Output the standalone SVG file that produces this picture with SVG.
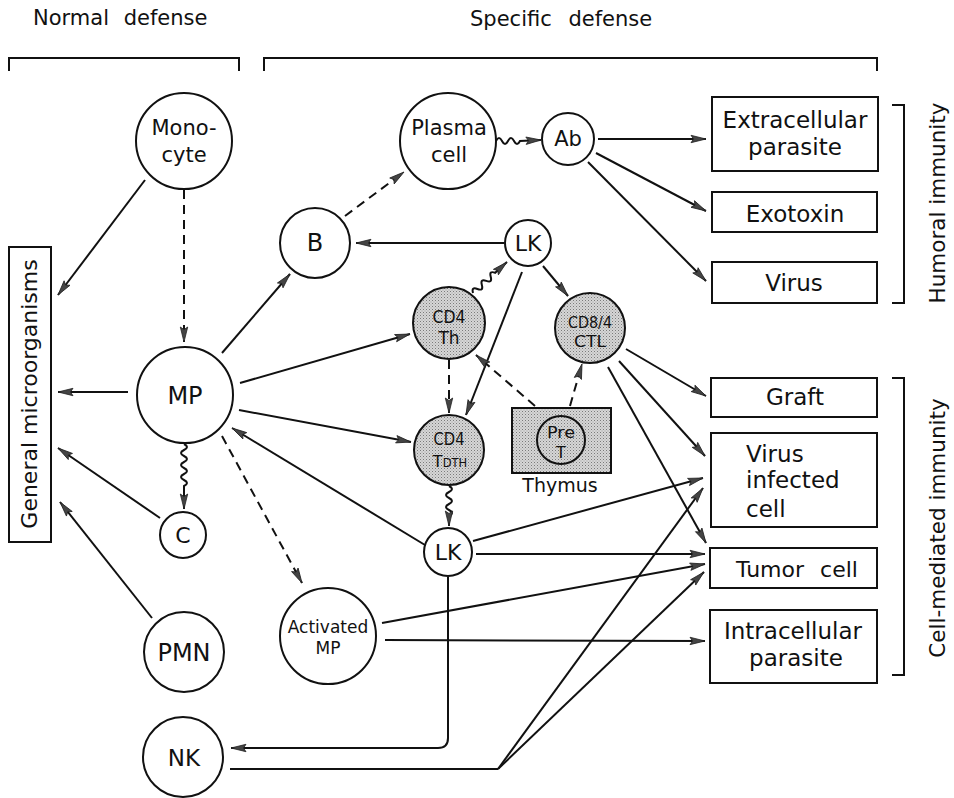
<svg xmlns="http://www.w3.org/2000/svg" width="954" height="798" viewBox="0 0 954 798">
<style>
text{font-family:"DejaVu Sans","Liberation Sans",sans-serif;fill:#111}
.c{text-anchor:middle}
.n{fill:#fff;stroke:#111;stroke-width:2}
.s{fill:url(#stip);stroke:#111;stroke-width:2}
.b{fill:#fff;stroke:#111;stroke-width:2}
.l{fill:none;stroke:#111;stroke-width:2}
.a{fill:none;stroke:#111;stroke-width:2;marker-end:url(#ah)}
.d{fill:none;stroke:#111;stroke-width:2;stroke-dasharray:9 6;marker-end:url(#ah)}
.w{fill:none;stroke:#111;stroke-width:2;marker-end:url(#ah)}
.t23{font-size:23px}
.t21{font-size:21px}
</style>
<defs>
<pattern id="stip" width="3" height="3" patternUnits="userSpaceOnUse">
<rect width="3" height="3" fill="#d6d6d6"/>
<rect x="0" y="0" width="1" height="1" fill="#7a7a7a"/>
<rect x="1.5" y="1.5" width="1" height="1" fill="#a0a0a0"/>
</pattern>
<marker id="ah" markerUnits="userSpaceOnUse" markerWidth="17" markerHeight="10" refX="16" refY="5" orient="auto">
<path d="M1,1.3 L16,5 L1,8.7 L3.5,5 z" fill="#444" stroke="#222" stroke-width="0.8"/>
</marker>
</defs>

<g id="titles">
<text x="33" y="25" class="t21" style="word-spacing:8px">Normal defense</text>
<text x="470" y="26" class="t21" style="word-spacing:10px">Specific defense</text>
<path class="l" d="M9,71 L9,58 L239,58 L239,71"/>
<path class="l" d="M264,71 L264,58 L877,58 L877,71"/>
<path class="l" d="M892,105 L904,105 L904,303 L892,303"/>
<path class="l" d="M892,378 L904,378 L904,675 L892,675"/>
<text transform="translate(945,203) rotate(-90)" class="c" style="font-size:21.5px">Humoral immunity</text>
<text transform="translate(945,528) rotate(-90)" class="c" style="font-size:21.5px">Cell-mediated immunity</text>
</g>

<g id="connectors">
<line class="a" x1="145" y1="180" x2="58" y2="295"/>
<line class="d" x1="184" y1="190" x2="184" y2="342"/>
<line class="a" x1="128" y1="392" x2="58" y2="392"/>
<line class="a" x1="160" y1="518" x2="58" y2="448"/>
<line class="a" x1="152" y1="618" x2="60" y2="502"/>
<path class="w" d="M184,444 q6,3 0,6 t0,6 t0,6 t0,6 t0,6 t0,6 t0,6 L184,509"/>
<line class="a" x1="222" y1="353" x2="290" y2="274"/>
<line class="a" x1="240" y1="383" x2="410" y2="334"/>
<line class="a" x1="239" y1="410" x2="411" y2="442"/>
<line class="a" x1="425" y1="545" x2="232" y2="428"/>
<line class="d" x1="222" y1="436" x2="302" y2="583"/>
<line class="d" x1="345" y1="216" x2="404" y2="172"/>
<path class="w" d="M496,141 q3,-6 6,0 t6,0 t6,0 t6,0 L541,140"/>
<line class="a" x1="598" y1="139" x2="706" y2="139"/>
<line class="a" x1="596" y1="153" x2="706" y2="211"/>
<line class="a" x1="588" y1="162" x2="706" y2="281"/>
<line class="a" x1="504" y1="243" x2="356" y2="243"/>
<path class="w" transform="translate(473,293) rotate(-42.4)" d="M0,0 q3,-6 6,0 t6,0 t6,0 t6,0 t6,0 L46,0"/>
<line class="a" x1="543" y1="266" x2="568" y2="296"/>
<line class="a" x1="522" y1="272" x2="466" y2="415"/>
<line class="d" x1="449" y1="360" x2="449" y2="413"/>
<line class="d" x1="535" y1="406" x2="476" y2="355"/>
<line class="d" x1="570" y1="406" x2="582" y2="364"/>
<path class="w" d="M449,486 q6,3 0,6 t0,6 t0,6 t0,6 t0,6 L449,526"/>
<line class="a" x1="626" y1="349" x2="706" y2="396"/>
<line class="a" x1="619" y1="361" x2="705" y2="456"/>
<line class="a" x1="608" y1="367" x2="706" y2="543"/>
<line class="a" x1="473" y1="541" x2="703" y2="478"/>
<line class="a" x1="476" y1="554" x2="705" y2="554"/>
<path class="a" d="M448,577 L448,738 Q448,748 438,748 L231,748"/>
<line class="a" x1="382" y1="623" x2="705" y2="564"/>
<line class="a" x1="385" y1="640" x2="705" y2="641"/>
<path class="l" d="M230,769 L498,769"/>
<line class="a" x1="498" y1="769" x2="703" y2="488"/>
<line class="a" x1="498" y1="769" x2="704" y2="572"/>
</g>

<g id="general"><rect class="b" x="9" y="247" width="42" height="295"/>
<text transform="translate(37,394) rotate(-90)" class="c" style="font-size:22px">General microorganisms</text></g>

<g id="monocyte"><circle class="n" cx="184" cy="141" r="48"/>
<text x="184" y="135" class="c t21">Mono-</text><text x="184" y="162" class="c t21">cyte</text></g>
<g id="plasma"><circle class="n" cx="448" cy="141" r="48"/>
<text x="449" y="135" class="c t21">Plasma</text><text x="449" y="162" class="c t21">cell</text></g>
<g id="ab"><circle class="n" cx="568" cy="139" r="26"/>
<text x="568" y="146" class="c t21">Ab</text></g>
<g id="b"><circle class="n" cx="315" cy="243" r="35"/>
<text x="315" y="251" class="c" style="font-size:24px">B</text></g>
<g id="lk1"><circle class="n" cx="528" cy="243" r="23"/>
<text x="528" y="251" class="c" style="font-size:22px">LK</text></g>
<g id="cd4th"><circle class="s" cx="449" cy="323" r="36"/>
<text x="449" y="323" class="c" style="font-size:17px" textLength="33" lengthAdjust="spacingAndGlyphs">CD4</text>
<text x="449" y="344" class="c" style="font-size:17px">Th</text></g>
<g id="ctl"><circle class="s" cx="590" cy="328" r="35"/>
<text x="590" y="328" class="c" style="font-size:16px" textLength="44" lengthAdjust="spacingAndGlyphs">CD8/4</text>
<text x="590" y="347" class="c" style="font-size:16px" textLength="32" lengthAdjust="spacingAndGlyphs">CTL</text></g>
<g id="mp"><circle class="n" cx="185" cy="395" r="48"/>
<text x="185" y="404" class="c" style="font-size:24px">MP</text></g>
<g id="cd4tdth"><circle class="s" cx="449" cy="450" r="35"/>
<text x="449" y="445" class="c" style="font-size:17px" textLength="31" lengthAdjust="spacingAndGlyphs">CD4</text>
<text x="450" y="467" class="c" style="font-size:16px">T<tspan style="font-size:11.5px">DTH</tspan></text></g>
<g id="thymus"><rect class="s" x="512" y="408" width="99" height="65"/>
<circle fill="none" stroke="#111" stroke-width="2" cx="561" cy="440" r="24"/>
<text x="561" y="438" class="c" style="font-size:15px" textLength="28" lengthAdjust="spacingAndGlyphs">Pre</text>
<text x="561" y="458" class="c" style="font-size:16px">T</text>
<text x="560" y="492" class="c" style="font-size:19px">Thymus</text></g>
<g id="c"><circle class="n" cx="183" cy="535" r="23"/>
<text x="183" y="543" class="c" style="font-size:22px">C</text></g>
<g id="lk2"><circle class="n" cx="448" cy="552" r="24"/>
<text x="448" y="560" class="c" style="font-size:22px">LK</text></g>
<g id="pmn"><circle class="n" cx="184" cy="652" r="40"/>
<text x="184" y="661" class="c" style="font-size:24px">PMN</text></g>
<g id="actmp"><circle class="n" cx="328" cy="636" r="48"/>
<text x="328" y="633" class="c" style="font-size:17px">Activated</text>
<text x="328" y="654" class="c" style="font-size:17px">MP</text></g>
<g id="nk"><circle class="n" cx="183" cy="757" r="40"/>
<text x="184" y="766" class="c" style="font-size:23px">NK</text></g>

<g id="extracellular"><rect class="b" x="712" y="97" width="166" height="74"/>
<text x="795" y="128" class="c t23">Extracellular</text><text x="795" y="155" class="c t23">parasite</text></g>
<g id="exotoxin"><rect class="b" x="712" y="192" width="165" height="40"/>
<text x="795" y="222" class="c t23">Exotoxin</text></g>
<g id="virus"><rect class="b" x="712" y="262" width="165" height="41"/>
<text x="794" y="291" class="c t23">Virus</text></g>
<g id="graft"><rect class="b" x="711" y="378" width="166" height="39"/>
<text x="795" y="405" class="c t23">Graft</text></g>
<g id="virusinfected"><rect class="b" x="711" y="433" width="166" height="94"/>
<text x="746" y="462" class="t23">Virus</text><text x="746" y="488" class="t23">infected</text><text x="746" y="517" class="t23">cell</text></g>
<g id="tumor"><rect class="b" x="710" y="548" width="167" height="40"/>
<text x="797" y="577" class="c" style="font-size:22px;word-spacing:9px">Tumor cell</text></g>
<g id="intracellular"><rect class="b" x="710" y="610" width="167" height="73"/>
<text x="793" y="639" class="c t23">Intracellular</text><text x="796" y="666" class="c t23">parasite</text></g>
</svg>
